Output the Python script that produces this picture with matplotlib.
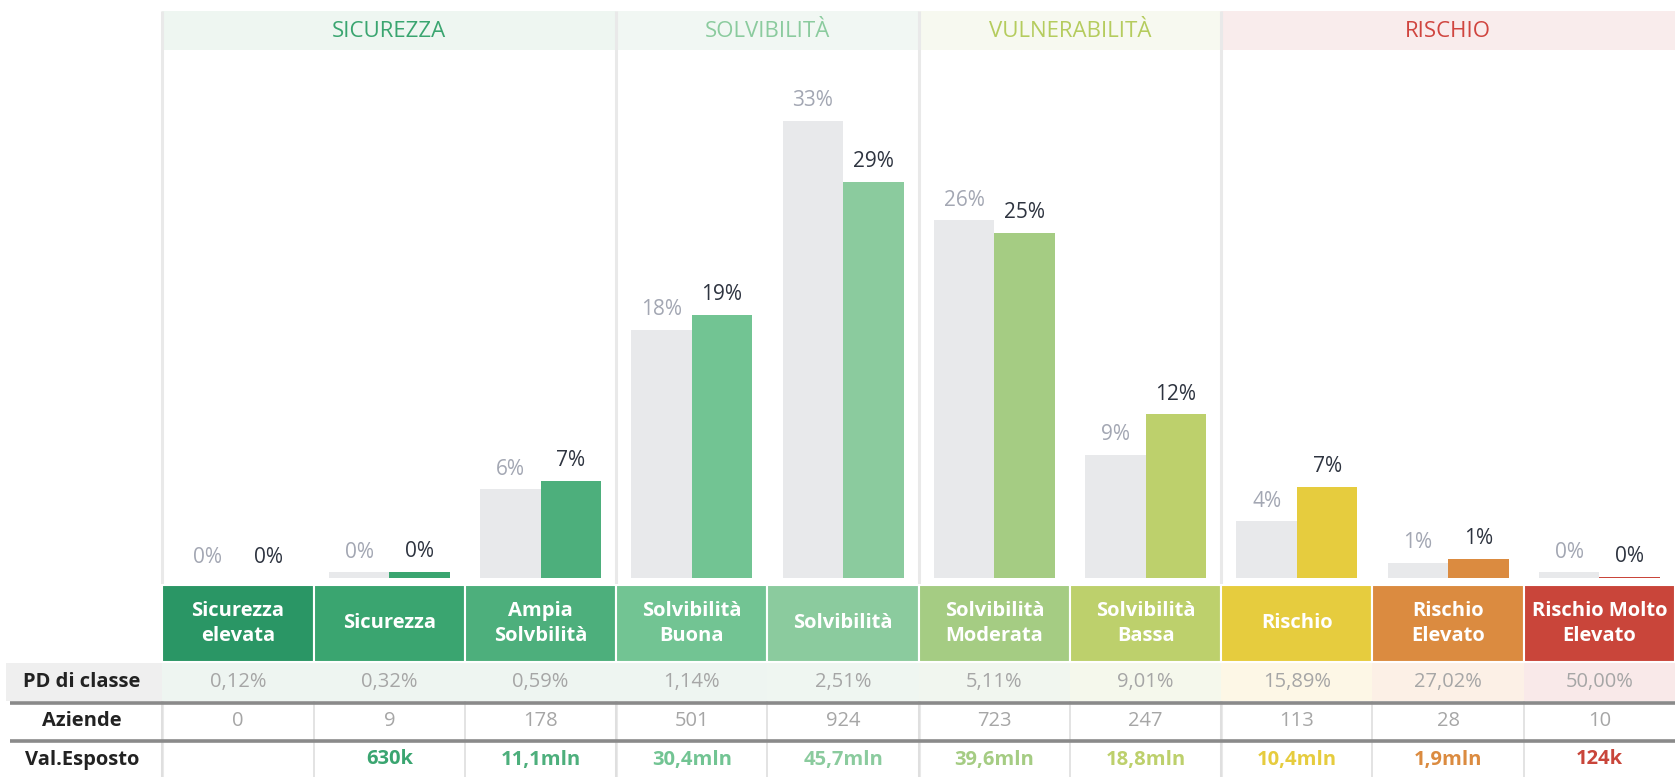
import matplotlib
matplotlib.use('Agg')
import matplotlib.pyplot as plt
from matplotlib.patches import Rectangle

# ---------------- data ----------------
categories = ["Sicurezza\nelevata", "Sicurezza", "Ampia\nSolvbilità", "Solvibilità\nBuona",
              "Solvibilità", "Solvibilità\nModerata", "Solvibilità\nBassa", "Rischio",
              "Rischio\nElevato", "Rischio Molto\nElevato"]
benchmark = [0.0, 0.4, 6.4, 17.9, 33.0, 25.8, 8.9, 4.1, 1.1, 0.4]
portfolio = [0.0, 0.45, 7.0, 19.0, 28.6, 24.9, 11.8, 6.6, 1.4, 0.1]
pd_classe = ["0,12%", "0,32%", "0,59%", "1,14%", "2,51%", "5,11%", "9,01%", "15,89%", "27,02%", "50,00%"]
aziende = [0, 9, 178, 501, 924, 723, 247, 113, 28, 10]
val_esposto = ["", "630k", "11,1mln", "30,4mln", "45,7mln", "39,6mln", "18,8mln", "10,4mln", "1,9mln", "124k"]
sections = ["SICUREZZA", "SOLVIBILITÀ", "VULNERABILITÀ", "RISCHIO"]
section_spans = [(0, 3), (3, 5), (5, 7), (7, 10)]
row_labels = ["PD di classe", "Aziende", "Val.Esposto"]

# ---------------- styles ----------------
cat_colors = ["#2a9665", "#3aa570", "#4daf7c", "#72c493", "#8bcb9e",
              "#a5cc83", "#bdd06c", "#e6cc3e", "#db8b40", "#c9453a"]
pd_bg = ["#eef5f1", "#eef5f1", "#eef5f1", "#eef5f1", "#eff6f1",
         "#f1f6ef", "#f5f8ec", "#fdf7e6", "#fcf0e6", "#f9e9e9"]
sec_bg = ["#eef6f1", "#f1f7f3", "#f7f9f0", "#f9ecec"]
sec_fg = ["#3aa570", "#8bcb9e", "#b5cc5e", "#d0453f"]
bench_color = "#e8e9eb"
bench_text = "#a3a7b3"
port_text = "#2e3440"

FAM = ["Open Sans", "DejaVu Sans"]
plt.rcParams['font.family'] = FAM

W, H = 1675, 777
L = 162.4
CW = (W - L) / 10
HEAD_TOP, HEAD_BOT = 11, 50
BASE = 578
BOX_TOP, BOX_BOT = 585, 662
PD_TOP, PD_BOT = 663, 701
AZ_TOP, AZ_BOT = 704, 739
VAL_TOP, VAL_BOT = 742, 777

fig = plt.figure(figsize=(W / 100, H / 100), dpi=100)
fig.patch.set_facecolor("white")

# overlay axes for header/table (x in column units, y in pixel rows)
ax_t = fig.add_axes([0, 0, 1, 1])
x0 = -0.5 - L / CW
ax_t.set_xlim(x0, 9.5)
ax_t.set_ylim(H, 0)
ax_t.axis("off")

# header band
for (a, b), name, bg, fg in zip(section_spans, sections, sec_bg, sec_fg):
    ax_t.add_patch(Rectangle((a - 0.5, HEAD_TOP), b - a, HEAD_BOT - HEAD_TOP, facecolor=bg, edgecolor="none"))
    ax_t.text((a + b - 1) / 2, (HEAD_TOP + HEAD_BOT) / 2 + 1, name, ha="center", va="center",
              color=fg, fontsize=16)

# section separators and left border
for xb in [-0.5, 2.5, 4.5, 6.5]:
    ax_t.plot([xb, xb], [HEAD_TOP, H], color="#e9e9e9", lw=2.2, zorder=1, solid_capstyle="butt")

# category boxes
for i, (lab, c) in enumerate(zip(categories, cat_colors)):
    ax_t.add_patch(Rectangle((i - 0.5, BOX_TOP), 1, BOX_BOT - BOX_TOP, facecolor=c,
                             edgecolor="white", lw=1.5, zorder=3))
    ax_t.text(i, (BOX_TOP + BOX_BOT) / 2, lab, ha="center", va="center", color="white",
              fontsize=14.5, fontweight="bold", linespacing=1.3, zorder=4)

# PD row
ax_t.add_patch(Rectangle((x0 + 6 / CW, PD_TOP), -0.5 - x0 - 6 / CW, PD_BOT - PD_TOP,
                         facecolor="#efefef", edgecolor="none", zorder=2))
for i, (v, bg) in enumerate(zip(pd_classe, pd_bg)):
    ax_t.add_patch(Rectangle((i - 0.5, PD_TOP), 1, PD_BOT - PD_TOP, facecolor=bg, edgecolor="none", zorder=2))
    ax_t.text(i, (PD_TOP + PD_BOT) / 2, v, ha="center", va="center", color="#a6a6a6",
              fontsize=14.5, zorder=4)

# Aziende row
for i, v in enumerate(aziende):
    ax_t.text(i, (AZ_TOP + AZ_BOT) / 2, str(v), ha="center", va="center", color="#a6a6a6",
              fontsize=14.5, zorder=4)

# Val.Esposto row
for i, (v, c) in enumerate(zip(val_esposto, cat_colors)):
    ax_t.text(i, (VAL_TOP + VAL_BOT) / 2, v, ha="center", va="center", color=c,
              fontsize=14.5, fontweight="bold", zorder=4)

# row labels
for lab, (t, b) in zip(row_labels, [(PD_TOP, PD_BOT), (AZ_TOP, AZ_BOT), (VAL_TOP, VAL_BOT)]):
    ax_t.text(x0 + 82 / CW, (t + b) / 2, lab, ha="center", va="center", color="#222222",
              fontsize=14.5, fontweight="bold", zorder=4)

# thin column separators in table rows
for k in range(10):
    xb = k - 0.5
    ax_t.plot([xb, xb], [PD_BOT, H], color="#dedede", lw=1.2, zorder=3, solid_capstyle="butt")

# thick horizontal separators
for yy in [(PD_BOT + AZ_TOP) / 2, (AZ_BOT + VAL_TOP) / 2]:
    ax_t.plot([x0 + 10 / CW, 9.5], [yy, yy], color="#8a8a8a", lw=2.6, zorder=5, solid_capstyle="butt")

# ---------------- bars ----------------
ax = fig.add_axes([L / W, (H - BASE) / H, 1 - L / W, (BASE - HEAD_BOT) / H])
ax.set_facecolor("none")
ax.set_xlim(-0.5, 9.5)
px_per_pct = 13.86
ax.set_ylim(0, (BASE - HEAD_BOT) / px_per_pct)
ax.axis("off")

xs = list(range(len(categories)))
bw = 0.4
ax.bar([x - bw / 2 for x in xs], benchmark, width=bw, color=bench_color, linewidth=0)
ax.bar([x + bw / 2 for x in xs], portfolio, width=bw, color=cat_colors, linewidth=0)

for x, b, p in zip(xs, benchmark, portfolio):
    ax.annotate(f"{round(b):d}%", (x - bw / 2, b), xytext=(0, 10.5), textcoords="offset points",
                ha="center", va="baseline", color=bench_text, fontsize=15)
    ax.annotate(f"{round(p):d}%", (x + bw / 2, p), xytext=(0, 10.5), textcoords="offset points",
                ha="center", va="baseline", color=port_text, fontsize=15)

fig.savefig("out.png", dpi=100)
